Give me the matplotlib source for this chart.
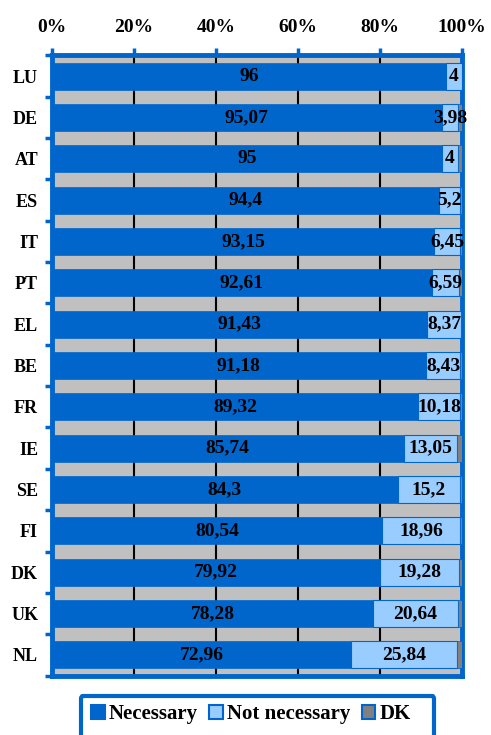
import matplotlib
matplotlib.use("Agg")
import matplotlib.pyplot as plt
from matplotlib.patches import FancyBboxPatch, Patch
import numpy as np

countries = ["LU", "DE", "AT", "ES", "IT", "PT", "EL", "BE", "FR", "IE", "SE", "FI", "DK", "UK", "NL"]
necessary = [96, 95.07, 95, 94.4, 93.15, 92.61, 91.43, 91.18, 89.32, 85.74, 84.3, 80.54, 79.92, 78.28, 72.96]
not_necessary = [4, 3.98, 4, 5.2, 6.45, 6.59, 8.37, 8.43, 10.18, 13.05, 15.2, 18.96, 19.28, 20.64, 25.84]
dk = [round(100 - a - b, 2) for a, b in zip(necessary, not_necessary)]
xticks = [0, 20, 40, 60, 80, 100]
xtick_labels = ["0%", "20%", "40%", "60%", "80%", "100%"]

BLUE = "#0066CC"
LIGHT = "#99CCFF"
GREY = "#808080"
BG = "#C0C0C0"
FONT = "Liberation Serif"

fig = plt.figure(figsize=(4.91, 7.35), dpi=100)
ax = fig.add_axes([52 / 491, 1 - 675.5 / 735, 410 / 491, (675.5 - 55.5) / 735])
ax.set_facecolor(BG)

y = np.arange(len(countries))
h = 0.65
nec = np.array(necessary)
notn = np.array(not_necessary)
dkv = np.array(dk)
ax.barh(y, nec, height=h, color=BLUE, edgecolor=BLUE, linewidth=0.5, zorder=3)
ax.barh(y, notn, left=nec, height=h, color=LIGHT, edgecolor=BLUE, linewidth=0.8, zorder=3)
ax.barh(y, dkv, left=nec + notn, height=h, color=GREY, edgecolor=BLUE, linewidth=0.5, zorder=3)

def fmt(v):
    return f"{v:g}".replace(".", ",")

for i in range(len(countries)):
    ax.text(nec[i] / 2, y[i], fmt(nec[i]), ha="center", va="center",
            fontfamily=FONT, fontweight="bold", fontsize=14, color="black", zorder=5)
    ax.text(nec[i] + notn[i] / 2, y[i], fmt(notn[i]), ha="center", va="center",
            fontfamily=FONT, fontweight="bold", fontsize=14, color="black", zorder=5)

ax.set_xlim(0, 100)
ax.set_ylim(len(countries) - 0.5, -0.5)
ax.set_xticks(xticks)
ax.set_xticklabels(xtick_labels, fontfamily=FONT, fontweight="bold", fontsize=14)
ax.xaxis.tick_top()
ax.tick_params(axis="x", which="major", direction="out", length=5, width=2.5, color=BLUE, pad=9)
ax.set_yticks(y)
ax.set_yticklabels(countries, fontfamily=FONT, fontweight="bold", fontsize=13)
ax.tick_params(axis="y", which="major", length=0, pad=10)
ax.set_yticks(np.arange(len(countries) + 1) - 0.5, minor=True)
ax.tick_params(axis="y", which="minor", direction="out", length=5, width=2.5, color=BLUE)

for xv in xticks[1:-1]:
    ax.axvline(xv, color="black", linewidth=1.5, zorder=1)

for s in ax.spines.values():
    s.set_color(BLUE)
    s.set_linewidth(3.5)

handles = [Patch(facecolor=BLUE, edgecolor=BLUE, linewidth=1.5, label="Necessary"),
           Patch(facecolor=LIGHT, edgecolor=BLUE, linewidth=1.5, label="Not necessary"),
           Patch(facecolor=GREY, edgecolor=BLUE, linewidth=1.5, label="DK")]
leg = fig.legend(handles=handles, loc="center", bbox_to_anchor=(251 / 491, 1 - 714 / 735),
                 ncol=3, frameon=False, handlelength=0.65, handleheight=0.65,
                 handletextpad=0.2, columnspacing=0.55,
                 prop={"family": FONT, "weight": "bold", "size": 15})

box = FancyBboxPatch((81 / 491, -0.05), (434 - 81) / 491, 0.05 + (735 - 696) / 735,
                     boxstyle="round,pad=0,rounding_size=0.004", transform=fig.transFigure,
                     facecolor="none", edgecolor=BLUE, linewidth=3, clip_on=False)
fig.patches.append(box)

fig.savefig("out.png", dpi=100)
